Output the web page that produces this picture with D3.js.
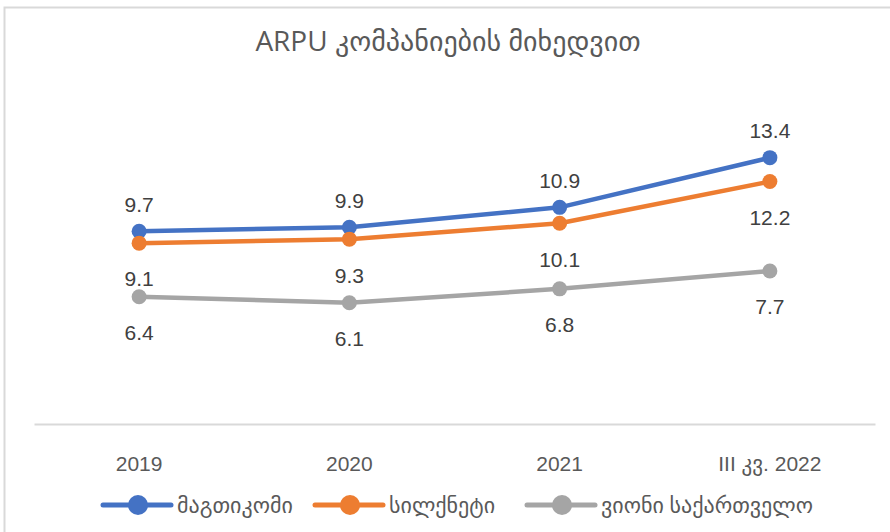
<!DOCTYPE html>
<html>
<head>
<meta charset="utf-8">
<script src="https://d3js.org/d3.v7.min.js"></script>
<style>
    body { margin: 0; background: #fff; }
    text { font-family: "Open Sans", "DejaVu Sans", sans-serif; }
</style>
</head>
<body>
<svg class="chart"></svg>
<script>
    // data
    var categories = ["2019", "2020", "2021", "III კვ. 2022"];
    var seriesNames = ["მაგთიკომი", "სილქნეტი", "ვიონი საქართველო"];
    var magticom = [9.7, 9.9, 10.9, 13.4];
    var silknet = [9.1, 9.3, 10.1, 12.2];
    var veon = [6.4, 6.1, 6.8, 7.7];
    var colors = ["#4472C4", "#ED7D31", "#A5A5A5"];

    var series = [
        { name: seriesNames[0], values: magticom, color: colors[0], pos: "above" },
        { name: seriesNames[1], values: silknet, color: colors[1], pos: "below" },
        { name: seriesNames[2], values: veon, color: colors[2], pos: "below" }
    ];

    var W = 890, H = 532;
    var svg = d3.select(".chart").attr("width", W).attr("height", H);

    // chart border (right/bottom cut off in the reference)
    svg.append("rect")
        .attr("x", 4.5).attr("y", 7.5)
        .attr("width", W + 20).attr("height", H + 20)
        .attr("fill", "none").attr("stroke", "#d9d9d9").attr("stroke-width", 2);

    var plot = { left: 34, right: 875, top: 106, bottom: 424 };

    var x = d3.scaleBand().domain(categories).range([plot.left, plot.right]);
    var y = d3.scaleLinear().domain([0, 16]).range([plot.bottom, plot.top]);

    // title
    svg.append("text")
        .attr("x", 448).attr("y", 51)
        .attr("text-anchor", "middle")
        .attr("fill", "#595959")
        .style("font-size", "28px")
        .text("ARPU კომპანიების მიხედვით");

    // x axis
    var xAxis = svg.append("g")
        .attr("transform", "translate(0," + plot.bottom + ")")
        .call(d3.axisBottom(x).tickSize(0).tickPadding(32));
    xAxis.select(".domain").attr("stroke", "#d9d9d9").attr("stroke-width", 2);
    xAxis.selectAll("text")
        .attr("fill", "#595959")
        .style("font-family", "'Liberation Sans', 'DejaVu Sans', sans-serif")
        .style("font-size", "21px");

    var line = d3.line()
        .x(function(d, i) { return x(categories[i]) + x.bandwidth() / 2; })
        .y(function(d) { return y(d); });

    series.forEach(function(s) {
        var g = svg.append("g");
        g.append("path")
            .datum(s.values)
            .attr("d", line)
            .attr("fill", "none")
            .attr("stroke", s.color)
            .attr("stroke-width", 4.5)
            .attr("stroke-linejoin", "round")
            .attr("stroke-linecap", "round");
        g.selectAll("circle")
            .data(s.values)
            .enter().append("circle")
            .attr("cx", function(d, i) { return x(categories[i]) + x.bandwidth() / 2; })
            .attr("cy", function(d) { return y(d); })
            .attr("r", 7.5)
            .attr("fill", s.color);
        g.selectAll(".lbl")
            .data(s.values)
            .enter().append("text")
            .attr("class", "lbl")
            .attr("x", function(d, i) { return x(categories[i]) + x.bandwidth() / 2; })
            .attr("y", function(d) { return y(d) + (s.pos === "above" ? -27 : 36); })
            .attr("dy", "0.35em")
            .attr("text-anchor", "middle")
            .attr("fill", "#404040")
            .style("font-family", "'Liberation Sans', sans-serif")
            .style("font-size", "21px")
            .text(function(d) { return d.toFixed(1); });
    });

    // legend
    var legendX = [103, 315, 527];
    var legend = svg.selectAll(".legend")
        .data(series)
        .enter().append("g")
        .attr("class", "legend")
        .attr("transform", function(d, i) { return "translate(" + legendX[i] + ",505)"; });
    legend.append("line")
        .attr("x1", 0).attr("x2", 68)
        .attr("stroke", function(d) { return d.color; })
        .attr("stroke-width", 5)
        .attr("stroke-linecap", "round");
    legend.append("circle")
        .attr("cx", 35).attr("r", 10)
        .attr("fill", function(d) { return d.color; });
    legend.append("text")
        .attr("x", 74).attr("dy", "0.35em")
        .attr("fill", "#595959")
        .style("font-size", "22px")
        .text(function(d) { return d.name; });
</script>
</body>
</html>
